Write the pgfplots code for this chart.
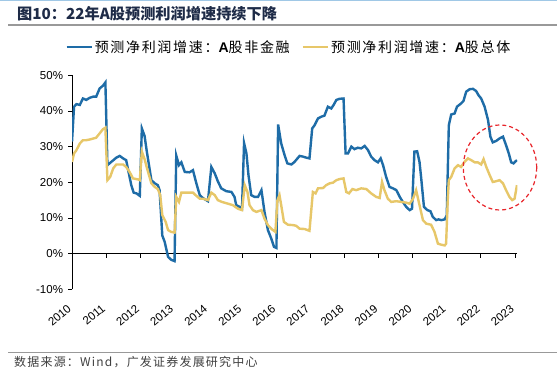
\documentclass[border=0pt]{standalone}
\usepackage{fontspec}
\setmainfont{Liberation Sans}
\newfontfamily\cjk{Noto Sans CJK SC}
\newfontfamily\cjksp{Noto Sans CJK SC}[LetterSpace=12]
\newfontfamily\cjksrc{Noto Sans CJK SC}[LetterSpace=10]
\newcommand{\bA}{{\fontspec{Liberation Sans}\bfseries A}}
\usepackage{pgfplots}
\pgfplotsset{compat=1.18}
\definecolor{cblue}{HTML}{1E6CA7}
\definecolor{cyellow}{HTML}{E7C769}
\definecolor{cred}{HTML}{E8252B}
\definecolor{ctitle}{HTML}{1E2B47}
\begin{document}
\begin{tikzpicture}
\useasboundingbox (0,0) rectangle (557bp,370bp);
\fill[white] (0,0) rectangle (557bp,370bp);
\draw[color={rgb,255:red,160;green,200;blue,230}, line width=1bp] (0,369.5bp) -- (557bp,369.5bp);
\node[anchor=west, inner sep=0, text=ctitle] at (17bp,356bp) {\cjk\bfseries\fontsize{15.2bp}{17bp}\selectfont 图10：22年A股预测利润增速持续下降};
\draw[gray!80, line width=1.8bp] (8bp,345bp) -- (557bp,345bp);
\draw[gray!80, line width=1.2bp] (8bp,17.6bp) -- (557bp,17.6bp);
\node[anchor=west, inner sep=0, text=black!75] at (14bp,8bp) {\cjksrc\fontsize{12bp}{13bp}\selectfont 数据来源：Wind，广发证券发展研究中心};
\begin{axis}[
  at={(72bp,80.7bp)}, anchor=south west,
  scale only axis, width=445.3bp, height=214bp,
  xmin=2010, xmax=2023.07, ymin=-10, ymax=50,
  axis y line=left, axis x line=middle,
  x axis line style={-}, y axis line style={-},
  axis line style={black, line width=0.8bp},
  tick style={black, line width=0.8bp},
  major tick length=4bp,
  tick align=outside,
  hide obscured x ticks=false,
  /pgf/number format/assume math mode=true,
  /pgf/number format/1000 sep={},
  ytick={-10,0,10,20,30,40,50},
  yticklabel={\pgfmathprintnumber{\tick}\%},
  y tick label style={font=\fontsize{11.5bp}{13bp}\selectfont, xshift=-1.5bp},
  xtick={2010,2011,...,2023},
  xticklabels={2010,2011,2012,2013,2014,2015,2016,2017,2018,2019,2020,2021,2022,2023},
  x tick label style={font=\fontsize{11.5bp}{12bp}\selectfont, yshift=-47bp, rotate=40, anchor=east},
  legend style={at={(axis description cs:-0.022,1.131)}, anchor=west, draw=none, fill=none,
    legend columns=2, font=\cjksp\fontsize{14bp}{15bp}\selectfont,
    /tikz/every even column/.append style={column sep=10bp}},
  legend image code/.code={\draw[#1] (0bp,0bp) -- (25bp,0bp);},
]
\addplot[cblue, line width=2.4bp] table {
2010.00 31.4
2010.06 41.2
2010.13 41.9
2010.23 41.7
2010.32 43.5
2010.42 43.1
2010.52 43.7
2010.62 44.0
2010.71 44.0
2010.81 46.3
2010.91 47.1
2010.98 48.0
2011.04 24.8
2011.15 25.7
2011.30 26.9
2011.40 27.4
2011.50 26.7
2011.59 26.2
2011.66 22.9
2011.74 19.2
2011.81 17.1
2011.89 16.9
2011.99 16.2
2012.05 35.1
2012.13 33.0
2012.19 29.0
2012.26 24.8
2012.33 20.6
2012.43 19.7
2012.52 19.2
2012.57 17.8
2012.65 5.1
2012.72 3.3
2012.82 -0.9
2012.91 -1.7
2013.01 -2.1
2013.06 27.5
2013.14 24.8
2013.21 25.6
2013.31 22.9
2013.45 22.8
2013.55 23.4
2013.65 19.7
2013.75 16.4
2013.84 15.6
2013.99 14.7
2014.09 24.3
2014.19 22.5
2014.28 20.3
2014.38 18.3
2014.53 17.5
2014.68 17.3
2014.77 15.9
2014.82 13.6
2014.92 13.1
2014.99 12.6
2015.05 31.0
2015.12 28.1
2015.18 22.0
2015.26 16.4
2015.36 15.9
2015.46 15.9
2015.56 17.8
2015.65 11.7
2015.75 6.6
2015.85 4.2
2015.93 1.9
2016.00 1.6
2016.05 36.2
2016.14 30.9
2016.24 27.6
2016.32 25.3
2016.44 25.0
2016.53 25.7
2016.60 26.5
2016.68 27.4
2016.78 27.2
2016.88 26.9
2016.97 26.7
2017.05 35.1
2017.12 36.0
2017.22 37.9
2017.32 38.4
2017.41 38.7
2017.51 41.2
2017.61 40.7
2017.68 41.7
2017.76 43.1
2017.85 43.4
2017.97 43.5
2018.03 28.1
2018.10 28.1
2018.20 30.0
2018.29 29.3
2018.39 29.7
2018.49 29.5
2018.59 30.2
2018.69 29.0
2018.78 27.2
2018.88 26.2
2018.98 25.6
2019.06 26.7
2019.13 24.8
2019.22 21.5
2019.32 18.7
2019.42 18.3
2019.52 17.8
2019.62 15.9
2019.71 14.5
2019.81 13.1
2019.91 12.2
2019.98 12.6
2020.05 28.6
2020.13 28.7
2020.20 25.7
2020.25 21.1
2020.33 13.1
2020.43 12.2
2020.52 11.9
2020.59 10.3
2020.69 9.4
2020.76 9.6
2020.84 9.4
2020.94 9.6
2021.00 10.8
2021.06 36.0
2021.13 39.0
2021.23 39.3
2021.30 41.2
2021.42 42.1
2021.49 42.8
2021.57 45.4
2021.67 46.1
2021.77 46.2
2021.86 45.6
2021.94 44.3
2022.01 43.5
2022.11 41.2
2022.21 37.5
2022.28 32.8
2022.35 31.2
2022.45 31.6
2022.55 32.3
2022.65 32.8
2022.74 30.4
2022.82 28.1
2022.89 25.6
2022.96 25.3
2023.02 25.9
2023.06 26.2
};
\addlegendentry{预测净利润增速：\bA 股非金融}
\addplot[cyellow, line width=2.4bp] table {
2010.00 25.7
2010.06 28.1
2010.13 29.0
2010.23 30.9
2010.32 31.8
2010.42 31.8
2010.52 32.0
2010.71 32.5
2010.81 33.7
2010.91 34.9
2010.98 35.3
2011.04 20.6
2011.12 21.5
2011.21 23.9
2011.30 25.0
2011.50 25.0
2011.59 24.3
2011.69 22.9
2011.79 21.1
2011.94 20.8
2011.99 20.6
2012.05 28.6
2012.13 26.5
2012.20 24.0
2012.26 22.0
2012.33 19.7
2012.43 18.7
2012.52 18.1
2012.59 16.4
2012.65 10.8
2012.75 8.9
2012.82 6.6
2012.91 6.1
2013.01 5.9
2013.06 15.9
2013.14 14.5
2013.21 17.1
2013.31 17.1
2013.55 17.1
2013.65 16.2
2013.75 15.4
2013.84 15.4
2013.99 15.0
2014.09 17.1
2014.19 16.4
2014.28 15.0
2014.40 14.5
2014.58 14.0
2014.72 13.6
2014.87 12.6
2014.99 12.2
2015.07 19.2
2015.15 17.3
2015.21 13.6
2015.31 12.2
2015.41 11.7
2015.56 12.2
2015.65 9.8
2015.75 8.0
2015.87 6.8
2015.97 6.1
2016.03 15.0
2016.09 16.4
2016.14 13.6
2016.22 8.9
2016.34 8.1
2016.49 8.0
2016.58 7.8
2016.68 7.0
2016.83 6.9
2016.97 6.4
2017.07 17.3
2017.15 16.9
2017.22 18.3
2017.37 18.4
2017.46 19.2
2017.56 19.7
2017.66 19.9
2017.76 20.6
2017.85 20.9
2017.97 21.1
2018.05 17.3
2018.13 16.9
2018.23 18.1
2018.34 17.8
2018.49 18.3
2018.64 18.1
2018.78 16.9
2018.93 15.9
2019.03 15.6
2019.10 20.1
2019.17 17.8
2019.27 15.4
2019.37 14.5
2019.52 14.7
2019.66 14.5
2019.81 14.3
2019.91 14.0
2020.01 15.4
2020.10 17.8
2020.20 13.6
2020.30 9.4
2020.40 8.4
2020.54 8.1
2020.64 6.1
2020.74 2.8
2020.84 2.5
2020.94 2.3
2020.98 2.8
2021.03 15.4
2021.06 20.6
2021.13 21.5
2021.23 23.9
2021.33 24.8
2021.42 24.3
2021.52 25.7
2021.62 26.7
2021.72 26.2
2021.82 25.6
2021.91 25.6
2022.01 25.0
2022.08 26.5
2022.16 24.3
2022.26 22.0
2022.35 20.1
2022.45 20.3
2022.55 20.6
2022.65 19.7
2022.74 17.8
2022.84 15.9
2022.92 15.0
2022.99 15.4
2023.06 19.2
};
\addlegendentry{预测净利润增速：\bA 股总体}
\end{axis}
\draw[cred, dashed, dash pattern=on 4bp off 3bp, line width=1.2bp] (500bp,202.5bp) ellipse [x radius=36.7bp, y radius=42.5bp];
\end{tikzpicture}
\end{document}
